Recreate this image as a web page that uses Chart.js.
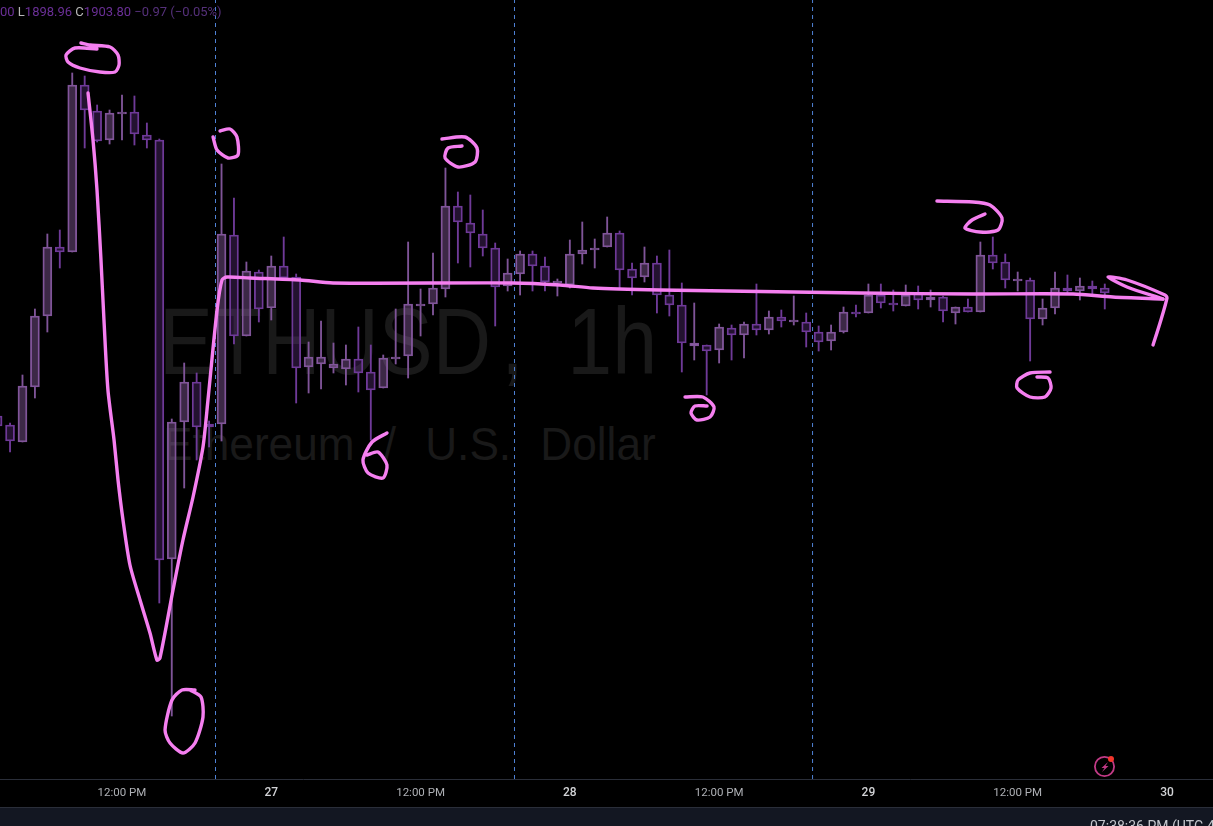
<!DOCTYPE html>
<html>
<head>
<meta charset="utf-8">
<title>ETHUSD, 1h</title>
<script src="https://cdn.jsdelivr.net/npm/chart.js@4"></script>
<style>
html, body { margin: 0; padding: 0; background: #000; width: 1213px; height: 826px; overflow: hidden; }
#wrap { position: relative; width: 1213px; height: 826px; overflow: hidden; font-family: Roboto, sans-serif; }
#chart { position: absolute; left: 0; top: 0; z-index: 2; }
.mark { position: absolute; z-index: 1; color: #191919; white-space: nowrap; font-family: "Liberation Sans", sans-serif; transform-origin: left top; }
#mark1 { left: 159px; top: 281px; font-size: 95px; line-height: 120px; word-spacing: 25px; transform: scaleX(0.85); }
#mark1 span { letter-spacing: 12px; }
#mark2 { left: 163px; top: 416px; font-size: 47px; line-height: 56px; word-spacing: 18px; transform: scaleX(0.94); }
#legend { position: absolute; z-index: 3; left: 0; top: 4px; font-size: 13px; line-height: 16px; color: #6a2f96; white-space: nowrap; }
#legend b { font-weight: 400; color: #b8b8b8; }
#legend i { font-style: normal; color: #55307a; }
#foot { position: absolute; z-index: 3; left: 0; top: 807px; width: 1213px; height: 19px; background: #131722; border-top: 1px solid #2a2e39; box-sizing: border-box; overflow: hidden; }
#clock { position: absolute; left: 1090px; top: 10px; font-size: 14px; line-height: 16px; color: #c4c6cc; white-space: nowrap; }
#bolt { position: absolute; z-index: 3; left: 1093px; top: 755px; }
</style>
</head>
<body>
<div id="wrap">
  <div class="mark" id="mark1">ETHUS<span>D</span>, 1h</div>
  <div class="mark" id="mark2">Ethereum / U.S. Dollar</div>
  <canvas id="chart" width="1213" height="807"></canvas>
  <div id="legend">00 <b>L</b>1898.96 <b>C</b>1903.80 <i>−0.97 (−0.05%)</i></div>
  <svg id="bolt" width="24" height="24" viewBox="0 0 24 24">
    <circle cx="11.5" cy="11.5" r="9.6" fill="none" stroke="#c23a86" stroke-width="1.8"/>
    <path d="M15 7 L8.5 13 L11.5 13 L9 17 L15.5 11 L12.5 11 Z" fill="#c23a86"/>
    <circle cx="18" cy="4" r="3" fill="#f2362c"/>
  </svg>
  <div id="foot"><div id="clock">07:38:36 PM (UTC-4)</div></div>
</div>
<script>
var opens = [1873,1870.75,1866.5,1880.25,1898,1915.25,1914,1955.75,1949.25,1942,
  1948.5,1949,1943.25,1942,1837.25,1871.5,1881.5,1871,1871,1918.25,
  1893,1909,1900,1910.5,1907.75,1885.25,1886,1885,1884.75,1887.25,
  1884,1880,1887.25,1888,1900.5,1901,1904.75,1925.5,1921.25,1918.5,
  1915,1905.5,1908.5,1913.5,1910.5,1906.25,1905.75,1913.5,1914.5,1915.25,
  1918.75,1909.75,1907.75,1911.25,1903.25,1900.75,1890.5,1890.75,1889.5,1895,
  1893.25,1896,1894.5,1897.75,1896.5,1896.5,1894,1891.75,1894,1899,
  1898.75,1903.25,1901.25,1900.5,1903.75,1902,1902.75,1898.75,1900.25,1899,
  1913.25,1911.5,1906.75,1907,1897.25,1900,1905,1904.25,1905.5,1905];
var closes = [1870.5,1866.75,1880.5,1898,1915.25,1914,1955.75,1949.5,1941.75,1948.75,
  1949,1943.5,1942,1837,1871.5,1881.5,1870.25,1870.25,1918.5,1893,
  1909.25,1899.75,1910.5,1907.5,1885,1887.75,1887.75,1886,1887.25,1883.75,
  1879.5,1887.5,1887.75,1901,1901,1905,1925.5,1921.5,1918.75,1915,
  1905.25,1908.75,1913.5,1910.5,1906.5,1906.75,1913.5,1914.5,1915,1918.75,
  1909.5,1907.5,1911.25,1903.25,1900.75,1891.25,1891.25,1889.25,1895.25,1893.25,
  1896,1894.5,1897.75,1896.75,1897,1894,1891.5,1894,1899,1898.5,
  1903.25,1901.25,1900.75,1903.25,1902,1902.75,1899.25,1900.25,1899,1913.25,
  1911.25,1907,1907.25,1897.25,1900,1905,1904.25,1905.5,1904.75,1903.75];
var highs = [1873,1871.25,1883.25,1899.75,1918.5,1919.5,1958.75,1958,1950.75,1949.5,
  1953.25,1953,1946.25,1942.25,1872.25,1886.25,1883.75,1871.75,1936,1927.5,
  1911.5,1909.5,1913,1917.75,1908.5,1891.5,1896.75,1891.25,1890.75,1895.25,
  1890.75,1888.25,1899.75,1916.5,1904.75,1913.75,1935,1929,1928.25,1924.5,
  1916.25,1912.25,1914.25,1914.25,1912.75,1907.25,1917,1921.5,1917.25,1922.75,
  1919.25,1911.25,1915.25,1913,1914.5,1906.25,1901.25,1890.75,1896,1895.75,
  1896.5,1906,1899.25,1899.5,1903,1898.75,1895.5,1895.75,1900.25,1900.75,
  1906,1906,1904.5,1905.75,1905.5,1904.5,1903,1900.25,1902.25,1916.5,
  1917.75,1913.5,1909,1907.5,1902.25,1909,1908.25,1907.5,1906.75,1906];
var lows = [1870.5,1864,1866.5,1877.5,1894,1910,1914,1940,1941.5,1941,
  1942,1940.75,1940,1826.25,1798,1855,1862,1865.25,1866.75,1891,
  1893,1896.5,1897,1907.5,1876.25,1878.75,1879.75,1883.75,1880.75,1879,
  1867,1880,1886,1882.5,1893,1898.25,1902.75,1911.25,1910.25,1913,
  1895.5,1904.25,1903.25,1904.25,1904.25,1903,1905,1911,1910,1915.25,
  1905,1903.25,1906.5,1898.75,1898,1884,1887,1878.25,1886.25,1887,
  1887.5,1893.25,1893.5,1895.25,1895.75,1890.25,1889.25,1889.5,1893.75,1897.75,
  1898.75,1900,1899.25,1900.5,1899.75,1900.25,1896.5,1896,1899,1899,
  1909.75,1905,1904.25,1886.75,1895.75,1898.5,1903.75,1902,1903.5,1899.75];

var tick_hours = [10,22,34,46,58,70,82,94];
var tick_labels = ["12:00 PM","27","12:00 PM","28","12:00 PM","29","12:00 PM","30"];
var session_breaks = [17.516,41.55,65.51];

// pen strokes on top of the chart, as [hour, price]
var ink_top = [[6.7,1966.25],[7.43,1965.75],[9.04,1965.25],[9.68,1963.25],[9.76,1960.75],[9.44,1959],[8.23,1959],[6.62,1960],[5.66,1961.5],[5.5,1963.25],[6.22,1965],[7.99,1964.75]];
var ink_main = [[7.27,1953.75],[7.67,1942],[7.99,1929.5],[8.31,1912],[8.55,1897],[8.87,1879.5],[9.36,1867],[9.68,1857],[10.08,1847],[10.64,1835.75],[11.45,1827],[12.25,1818.75],[12.81,1812],[13.05,1812.5],[14.1,1829.5],[14.9,1842],[15.71,1852.75],[16.51,1865.25],[16.91,1877],[17.64,1899.5],[18.04,1907],[18.44,1907.75],[20.29,1907.5],[24.31,1907],[26.96,1906.25],[41.43,1906.25],[45.21,1905.75],[47.86,1905],[53.25,1904.5],[58.63,1904.25],[69.32,1903.75],[78.41,1903.5],[86.45,1903.5],[89.66,1902.75],[93.68,1902.25]];
var ink_arrow = [[93.68,1902.25],[90.79,1905.25],[89.26,1907.75],[90.79,1907],[93.84,1903.25],[94,1902.5],[93.44,1896.25],[92.88,1890.75]];
var ink_bottom = [[15.87,1804.5],[14.82,1804.5],[14.02,1802],[13.46,1794.5],[13.86,1791.25],[14.9,1788.75],[15.87,1791.25],[16.51,1797.75],[16.35,1802.75],[15.47,1804.5]];
var ink_open = [[17.88,1944.25],[18.68,1944.75],[19.24,1942.75],[19.32,1938.25],[18.52,1937.5],[17.64,1939.5],[17.32,1942.75]];
var ink_hi1 = [[35.72,1942.25],[37.57,1942.75],[38.54,1940],[38.38,1936.5],[37.01,1935.25],[35.97,1937.5],[36.21,1940],[37.33,1940.5]];
var ink_lo1 = [[31.3,1868.75],[30.1,1866.5],[29.37,1862],[29.78,1858.75],[30.98,1857.5],[31.3,1860.75],[30.58,1864],[29.69,1863.25]];
var ink_lo2 = [[55.26,1877.75],[56.7,1877.75],[57.59,1875.25],[57.27,1872.75],[56.22,1872],[55.74,1873.75],[56.06,1875.5],[57.03,1875.5]];
var ink_hi2 = [[75.51,1926.75],[78.41,1926.5],[79.77,1925.75],[80.74,1922.5],[80.42,1919.5],[78.97,1919],[77.76,1920],[78.33,1922],[79.37,1923.5]];
var ink_lo3 = [[84.6,1884],[82.99,1883.75],[82.03,1882],[81.95,1880],[82.99,1877.75],[84.19,1877.75],[84.68,1880],[84.44,1882.5],[83.55,1882.75]];

var y_min = 1782.25;
var y_max = 1977;

var is_up = (i) => closes[i] >= opens[i];

var ink_dataset = (points) => ({
    type: "line",
    data: points.map((p) => ({ x: p[0], y: p[1] })),
    borderColor: "#f57ff0",
    borderWidth: 3.4,
    borderCapStyle: "round",
    borderJoinStyle: "round",
    tension: 0.25,
    pointRadius: 0,
    order: 0
});

var break_dataset = (hour) => ({
    type: "line",
    data: [{ x: hour, y: y_min }, { x: hour, y: y_max }],
    borderColor: "#4f82d6",
    borderWidth: 1,
    borderDash: [4, 4],
    pointRadius: 0,
    order: 3
});

var bodies = opens.map((o, i) => ({ x: i, y: [o, closes[i]] }));
var upper_wicks = highs.map((h, i) => ({ x: i, y: [Math.max(opens[i], closes[i]), h] }));
var lower_wicks = lows.map((l, i) => ({ x: i, y: [l, Math.min(opens[i], closes[i])] }));

var wick_color = (ctx) => is_up(ctx.dataIndex) ? "#7f5498" : "#6f3a98";

var wick_dataset = (points) => ({
    data: points,
    grouped: false,
    barThickness: 1.2,
    backgroundColor: wick_color,
    borderWidth: 0,
    order: 2
});

var datasets = [
    wick_dataset(upper_wicks),
    wick_dataset(lower_wicks),
    {
        data: bodies,
        grouped: false,
        barThickness: 9,
        backgroundColor: (ctx) => is_up(ctx.dataIndex) ? "rgba(150,100,175,0.4)" : "rgba(110,55,150,0.32)",
        borderColor: wick_color,
        borderWidth: 1.2,
        borderSkipped: false,
        order: 1
    }
];
session_breaks.forEach((h) => datasets.push(break_dataset(h)));
[ink_top, ink_main, ink_arrow, ink_bottom, ink_open, ink_hi1, ink_lo1, ink_lo2, ink_hi2, ink_lo3].forEach((p) => datasets.push(ink_dataset(p)));

var is_date_tick = (ctx) => ctx.tick && tick_labels[tick_hours.indexOf(ctx.tick.value)].length < 3;

new Chart(document.getElementById("chart"), {
    type: "bar",
    data: { datasets: datasets },
    options: {
        responsive: false,
        animation: false,
        devicePixelRatio: 1,
        layout: { padding: 0 },
        plugins: { legend: { display: false }, tooltip: { enabled: false } },
        scales: {
            x: {
                type: "linear",
                offset: false,
                min: 0.193,
                max: 97.7,
                grid: { display: false, drawTicks: false },
                border: { display: true, color: "#2a2e39" },
                afterBuildTicks: (axis) => { axis.ticks = tick_hours.map((h) => ({ value: h })); },
                afterFit: (axis) => { axis.height = 28; },
                ticks: {
                    autoSkip: false,
                    maxRotation: 0,
                    padding: 7,
                    color: (ctx) => is_date_tick(ctx) ? "#d2d3d6" : "#aeb0b5",
                    font: (ctx) => is_date_tick(ctx) ? { family: "Roboto", size: 12, weight: "500" } : { family: "Roboto", size: 11.5 },
                    callback: (v) => tick_labels[tick_hours.indexOf(v)]
                }
            },
            y: { display: false, min: y_min, max: y_max }
        }
    }
});
</script>
</body>
</html>
